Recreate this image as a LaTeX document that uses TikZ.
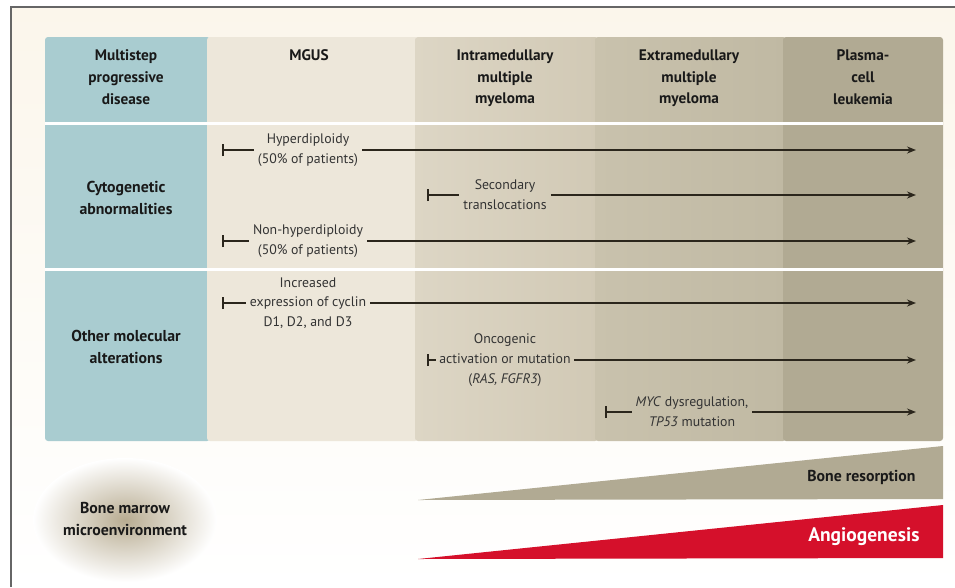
\documentclass[tikz,border=0pt]{standalone}
\usepackage{fontspec}
\setmainfont{PT Sans}
\usepackage{tikz}
\usetikzlibrary{arrows.meta,positioning}

\definecolor{bgtop}{HTML}{FBF6EB}
\definecolor{colA}{HTML}{A9CCD0}
\definecolor{colB}{HTML}{EDE7DA}
\definecolor{colCl}{HTML}{DDD6C5}
\definecolor{colCr}{HTML}{D1C9B5}
\definecolor{colDl}{HTML}{C9C2AD}
\definecolor{colDr}{HTML}{C0B9A3}
\definecolor{colE}{HTML}{B1AA93}
\definecolor{arrc}{HTML}{2B261C}
\definecolor{angred}{HTML}{D5102B}
\definecolor{blobc}{HTML}{B8AC91}

\begin{document}
\begin{tikzpicture}[x=1pt,y=-1pt,every node/.style={font=\fontsize{13.8}{19.8}\selectfont,align=center,text=black!80},
  hd/.style={font=\fontsize{15.3}{21.8}\selectfont\bfseries,text=black!90,anchor=north},
  rowhd/.style={font=\fontsize{15.8}{21.5}\selectfont\bfseries,text=black!90},
  lbl/.style={inner sep=4pt},
  bararr/.style={{Bar[width=12pt]}-,line width=1.6pt,draw=arrc},
  arr/.style={-{Stealth[length=9pt,width=7pt]},line width=1.6pt,draw=arrc}]
\useasboundingbox (0,0) rectangle (955,587);
% frame and background
\shade[top color=bgtop,bottom color=white] (11,7) rectangle (955,587);
% columns
\fill[colA,rounded corners=3pt] (45,37) rectangle (210,441);
\fill[colB,rounded corners=3pt] (207,37) rectangle (418,441);
\shade[left color=colCl,right color=colCr,rounded corners=3pt] (415,37) rectangle (598,441);
\shade[left color=colDl,right color=colDr,rounded corners=3pt] (595,37) rectangle (786,441);
\fill[colE,rounded corners=3pt] (783,37) rectangle (943,441);
\draw[white,line width=3pt] (45,123) -- (943,123);
\draw[white,line width=3pt] (45,269) -- (943,269);
% headers
\node[hd](ms) at (126,46){Multistep\\progressive\\disease};
\node[hd](mgus) at (309,46){MGUS};
\node[hd](imm) at (505,46){Intramedullary\\multiple\\myeloma};
\node[hd](emm) at (689,46){Extramedullary\\multiple\\myeloma};
\node[hd](pcl) at (863,46){Plasma-\\cell\\leukemia};
\node[rowhd](cyto) at (126,198){Cytogenetic\\abnormalities};
\node[rowhd](omol) at (126,347){Other molecular\\alterations};
% cytogenetic arrows
\coordinate (h0) at (222,150); \coordinate (h1) at (916,150);
\node[lbl](hyp) at (308,150){Hyperdiploidy\\(50\% of patients)};
\draw[bararr](h0)--(hyp); \draw[arr](hyp)--(h1);
\coordinate (s0) at (427,195); \coordinate (s1) at (916,195);
\node[lbl](sec) at (505,195){Secondary\\translocations};
\draw[bararr](s0)--(sec); \draw[arr](sec)--(s1);
\coordinate (n0) at (222,241); \coordinate (n1) at (916,241);
\node[lbl](nhyp) at (308,241){Non-hyperdiploidy\\(50\% of patients)};
\draw[bararr](n0)--(nhyp); \draw[arr](nhyp)--(n1);
% molecular arrows
\coordinate (c0) at (222,303); \coordinate (c1) at (916,303);
\node[lbl](cyc) at (308,303){Increased\\expression of cyclin\\D1, D2, and D3};
\draw[bararr](c0)--(cyc); \draw[arr](cyc)--(c1);
\coordinate (o0) at (427,360); \coordinate (o1) at (916,360);
\node[lbl,inner sep=3pt](onc) at (505,360){Oncogenic\\activation or mutation\\(\textit{RAS, FGFR3})};
\draw[bararr](o0)--(onc); \draw[arr](onc)--(o1);
\coordinate (m0) at (605,412); \coordinate (m1) at (916,412);
\node[lbl](myc) at (692,412){\textit{MYC} dysregulation,\\\textit{TP53} mutation};
\draw[bararr](m0)--(myc); \draw[arr](myc)--(m1);
% microenvironment
\shade[inner color=blobc,outer color=white] (125,520) ellipse [x radius=92pt,y radius=62pt];
\node[rowhd](bmm) at (125,519){Bone marrow\\microenvironment};
\fill[colE] (418,500) -- (943,446) -- (943,499) -- cycle;
\node[rowhd,anchor=east](bres) at (919,477){Bone resorption};
\fill[angred] (418,559) -- (943,505) -- (943,558) -- cycle;
\node[font=\fontsize{19.5}{22}\selectfont\bfseries,text=white,anchor=east](angio) at (923,537){Angiogenesis};
\draw[black!60,line width=1.4pt] (11,587) -- (11,7) -- (955,7);
\end{tikzpicture}
\end{document}
